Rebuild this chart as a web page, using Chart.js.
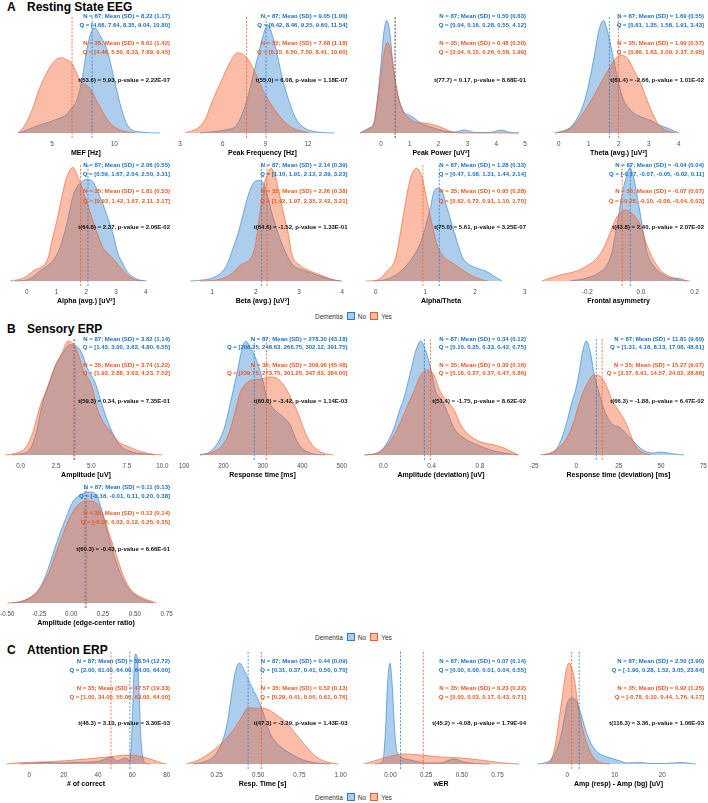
<!DOCTYPE html>
<html><head><meta charset="utf-8">
<script src="https://cdn.jsdelivr.net/npm/chart.js@4.4.1/dist/chart.umd.min.js"></script>
<style>
html,body{margin:0;padding:0;background:#fff;}
#root{position:relative;width:708px;height:803px;overflow:hidden;background:#fff;font-family:"Liberation Sans",Arial,Helvetica,sans-serif;}
.sec{position:absolute;font-weight:bold;font-size:12px;line-height:12px;color:#000;white-space:nowrap}
.ann{position:absolute;font-weight:bold;font-size:6px;line-height:7px;white-space:nowrap;text-align:right}
.axt{position:absolute;font-weight:bold;font-size:7px;line-height:8px;white-space:nowrap;text-align:center;color:#000;width:220px}
.leg{position:absolute;font-size:6.5px;line-height:9px;color:#333;white-space:nowrap;display:flex;align-items:center}
.sw{display:inline-block;width:8px;height:8px;box-sizing:border-box;margin:0 3px 0 4px}
canvas{position:absolute}
</style></head><body><div id="root"></div>
<script>
// ---------------- DATA (x value, estimated density) ----------------
// A. Resting State EEG
const MEF_NO  = [[2.3,0],[3.0,.011],[4.0,.029],[4.84,.04],[5.4,.05],[6.0,.061],[6.6,.09],[7.0,.119],[7.4,.19],[7.8,.30],[8.13,.36],[8.45,.377],[8.85,.35],[9.41,.30],[10.06,.18],[10.6,.083],[11.1,.025],[12.06,.004],[13.67,0]];
const MEF_YES = [[2.27,0],[2.83,.029],[3.4,.083],[4.04,.165],[4.84,.237],[5.4,.266],[5.8,.27],[6.2,.262],[6.6,.25],[7.25,.19],[8.05,.16],[8.85,.093],[9.65,.036],[10.46,.011],[11.66,0]];
const MEF_MEANS = [8.22, 6.61];
const MEF_TICKS = ['5','10'];
const MEF_TEXT = ['N = 87; Mean (SD) = 8.22 (1.17)','Q = [4.66, 7.64, 8.35, 9.04, 10.80]','N = 35; Mean (SD) = 6.61 (1.42)','Q = [4.46, 5.50, 6.33, 7.89, 9.45]','t(53.6) = 5.93, p-value = 2.22E-07'];

const PF_NO  = [[4.4,0],[6.15,.011],[7.0,.029],[7.4,.072],[7.77,.13],[8.1,.2],[8.47,.274],[8.82,.346],[9.17,.389],[9.52,.346],[9.87,.274],[10.22,.191],[10.71,.108],[11.2,.047],[11.76,.018],[12.6,.004],[13.86,0]];
const PF_YES = [[3.35,0],[4.26,.018],[4.75,.047],[5.31,.119],[5.94,.191],[6.5,.252],[7.06,.288],[7.7,.27],[8.26,.22],[8.82,.155],[9.52,.094],[10.22,.047],[10.92,.018],[12.1,0]];
const PF_MEANS = [9.05, 7.68];
const PF_TICKS = ['3','6','9','12'];
const PF_TEXT = ['N = 87; Mean (SD) = 9.05 (1.00)','Q = [6.42, 8.46, 9.25, 9.60, 11.54]','N = 35; Mean (SD) = 7.68 (1.18)','Q = [6.15, 6.50, 7.50, 8.41, 10.60]','t(55.0) = 6.08, p-value = 1.18E-07'];

const PP_NO  = [[-0.73,0],[-0.42,.067],[-0.24,.133],[-0.13,.44],[-0.01,.88],[0.08,1.28],[0.2,1.5],[0.31,1.33],[0.39,1.01],[0.51,.665],[0.63,.44],[0.8,.28],[0.97,.24],[1.15,.2],[1.38,.133],[1.73,.08],[2.22,.027],[2.57,.013],[2.88,.04],[3.26,.007],[3.78,.007],[4.16,.04],[4.48,.007],[4.79,0]];
const PP_YES = [[-0.73,0],[-0.42,.053],[-0.24,.146],[-0.13,.4],[-0.01,.745],[0.08,1.01],[0.22,1.21],[0.34,1.1],[0.45,.8],[0.57,.53],[0.74,.306],[0.97,.2],[1.2,.146],[1.52,.133],[1.86,.106],[2.15,.067],[2.47,.013],[2.92,0],[4.79,0]];
const PP_MEANS = [0.50, 0.48];
const PP_TICKS = ['0','1','2','3','4','5'];
const PP_TEXT = ['N = 87; Mean (SD) = 0.50 (0.63)','Q = [0.04, 0.16, 0.28, 0.55, 4.12]','N = 35; Mean (SD) = 0.48 (0.50)','Q = [0.04, 0.15, 0.26, 0.58, 1.99]','t(77.7) = 0.17, p-value = 8.68E-01'];

const TH_NO  = [[-0.12,0],[0.23,.024],[0.4,.048],[0.62,.12],[0.84,.24],[1.01,.4],[1.18,.61],[1.34,.82],[1.49,.9],[1.62,.82],[1.79,.64],[1.95,.45],[2.12,.29],[2.4,.18],[2.73,.13],[3.07,.1],[3.34,.064],[3.62,.04],[4.01,0]];
const TH_YES = [[-0.12,0],[0.29,.024],[0.51,.064],[0.73,.13],[0.95,.21],[1.18,.3],[1.4,.4],[1.62,.49],[1.84,.58],[2.07,.62],[2.29,.6],[2.51,.5],[2.73,.4],[2.95,.26],[3.18,.13],[3.34,.064],[3.57,.024],[3.88,0]];
const TH_MEANS = [1.69, 1.99];
const TH_TICKS = ['0','1','2','3','4'];
const TH_TEXT = ['N = 87; Mean (SD) = 1.69 (0.55)','Q = [0.61, 1.35, 1.58, 1.91, 3.43]','N = 35; Mean (SD) = 1.99 (0.57)','Q = [0.86, 1.63, 2.09, 2.37, 2.95]','t(61.4) = -2.66, p-value = 1.01E-02'];

const AL_NO  = [[-0.39,0],[0,.007],[0.45,.067],[1.06,.194],[1.34,.375],[1.57,.576],[1.85,.663],[2.04,.677],[2.24,.657],[2.46,.563],[2.69,.442],[2.91,.308],[3.08,.174],[3.19,.134],[3.36,.067],[3.7,.013],[4.03,0]];
const AL_YES = [[-0.56,0],[-0.11,.02],[0.22,.067],[0.73,.16],[0.84,.26],[1.01,.4],[1.18,.56],[1.34,.69],[1.55,.757],[1.73,.69],[1.9,.6],[2.13,.46],[2.35,.33],[2.57,.22],[2.8,.17],[3.03,.12],[3.25,.067],[3.58,.013],[3.92,0]];
const AL_MEANS = [2.06, 1.81];
const AL_TICKS = ['0','1','2','3','4'];
const AL_TEXT = ['N = 87; Mean (SD) = 2.06 (0.55)','Q = [0.59, 1.67, 2.04, 2.50, 3.31]','N = 35; Mean (SD) = 1.81 (0.53)','Q = [0.92, 1.42, 1.67, 2.11, 3.17]','t(64.8) = 2.37, p-value = 2.06E-02'];

const BE_NO  = [[0.49,0],[0.79,.012],[1.1,.058],[1.33,.18],[1.48,.38],[1.6,.56],[1.72,.79],[1.83,.99],[1.95,1.13],[2.06,1.16],[2.18,1.13],[2.29,.95],[2.41,.72],[2.56,.49],[2.72,.3],[2.87,.18],[3.1,.127],[3.41,.069],[3.72,.023],[3.95,0]];
const BE_YES = [[0.72,0],[1.1,.012],[1.41,.07],[1.64,.18],[1.95,.33],[2.03,.53],[2.1,.79],[2.18,1.07],[2.26,1.22],[2.35,1.3],[2.45,1.22],[2.52,1.07],[2.64,.79],[2.76,.53],[2.83,.32],[3.03,.18],[3.26,.115],[3.56,.058],[3.79,.012],[4.0,0]];
const BE_MEANS = [2.14, 2.26];
const BE_TICKS = ['1','2','3','4'];
const BE_TEXT = ['N = 87; Mean (SD) = 2.14 (0.39)','Q = [1.10, 1.91, 2.12, 2.39, 3.23]','N = 35; Mean (SD) = 2.26 (0.38)','Q = [1.42, 1.97, 2.35, 2.42, 3.21]','t(64.6) = -1.52, p-value = 1.33E-01'];

const AT_NO  = [[-0.03,0],[0.17,.014],[0.37,.07],[0.57,.18],[0.77,.36],[0.91,.55],[1.01,.78],[1.11,1.06],[1.17,1.25],[1.25,1.3],[1.34,1.25],[1.44,1.02],[1.54,.78],[1.64,.55],[1.74,.34],[1.84,.25],[2.04,.18],[2.21,.14],[2.38,.07],[2.54,0]];
const AT_YES = [[-0.2,0],[0.03,.014],[0.23,.14],[0.4,.32],[0.5,.69],[0.6,1.1],[0.7,1.44],[0.82,1.58],[0.94,1.44],[1.04,1.1],[1.14,.78],[1.24,.5],[1.37,.34],[1.58,.24],[1.78,.14],[2.04,.04],[2.25,0]];
const AT_MEANS = [1.28, 0.95];
const AT_TICKS = ['0','1','2','3'];
const AT_TEXT = ['N = 87; Mean (SD) = 1.28 (0.33)','Q = [0.47, 1.08, 1.31, 1.44, 2.14]','N = 35; Mean (SD) = 0.95 (0.28)','Q = [0.62, 0.72, 0.91, 1.10, 1.70]','t(75.0) = 5.61, p-value = 3.25E-07'];

const FA_NO  = [[-0.264,0],[-0.202,.24],[-0.158,.64],[-0.127,1.28],[-0.108,2.32],[-0.096,3.68],[-0.083,5.28],[-0.071,6.88],[-0.058,8.08],[-0.042,9.04],[-0.027,8.24],[-0.015,6.88],[-0.002,5.28],[0.01,3.68],[0.022,2.32],[0.047,1.2],[0.085,.48],[0.107,.24],[0.13,.24],[0.173,0]];
const FA_YES = [[-0.37,0],[-0.338,.24],[-0.301,.48],[-0.239,.8],[-0.202,1.2],[-0.164,1.84],[-0.139,2.64],[-0.114,3.92],[-0.09,5.12],[-0.058,5.68],[-0.027,5.28],[-0.002,4.48],[0.022,2.88],[0.047,1.68],[0.072,.88],[0.103,.4],[0.141,.08],[0.182,0]];
const FA_MEANS = [-0.04, -0.07];
const FA_TICKS = ['-0.2','0.0','0.2'];
const FA_TEXT = ['N = 87; Mean (SD) = -0.04 (0.04)','Q = [-0.17, -0.07, -0.05, -0.02, 0.11]','N = 35; Mean (SD) = -0.07 (0.07)','Q = [-0.28, -0.10, -0.06, -0.04, 0.03]','t(43.8) = 2.40, p-value = 2.07E-02'];

// B. Sensory ERP
const AMP_NO  = [[-0.61,0],[-0.17,.002],[0.66,.0175],[1.13,.07],[1.48,.14],[1.95,.2],[2.47,.26],[2.97,.294],[3.48,.3185],[4.19,.3045],[4.77,.245],[5.25,.21],[5.6,.1645],[6.07,.105],[6.54,.0595],[7.01,.028],[7.72,.0105],[8.66,.0035],[9.48,0]];
const AMP_YES = [[-1.11,0],[-0.52,.0035],[0.42,.025],[0.89,.07],[1.36,.14],[1.84,.19],[2.42,.255],[2.9,.294],[3.36,.329],[3.95,.3045],[4.42,.245],[5.01,.2],[5.37,.14],[5.83,.0945],[6.31,.07],[7.01,.035],[7.6,.0245],[8.19,.014],[9.13,.0035],[10.0,0]];
const AMP_MEANS = [3.82, 3.74];
const AMP_TICKS = ['0.0','2.5','5.0','7.5','10.0'];
const AMP_TEXT = ['N = 87; Mean (SD) = 3.82 (1.14)','Q = [1.43, 3.00, 3.62, 4.80, 6.55]','N = 35; Mean (SD) = 3.74 (1.22)','Q = [1.93, 2.88, 3.63, 4.23, 7.52]','t(59.3) = 0.34, p-value = 7.35E-01'];

const RT_NO  = [[140.6,0],[166,.0003],[187,.0012],[204,.0027],[216.8,.0047],[225,.006],[235.3,.0077],[246.4,.0097],[256.6,.0105],[267.5,.01],[284.5,.0087],[301.3,.0067],[310,.0053],[326.6,.0043],[352,.0035],[369,.0028],[386,.0013],[402.8,.0005],[428,.0001],[458,0]];
const RT_YES = [[140.6,0],[174.4,.0003],[199.7,.001],[216.8,.0023],[229.4,.004],[242,.0057],[254.8,.0065],[271.8,.0069],[292.9,.007],[318.3,.0072],[339.3,.007],[360.7,.006],[377.4,.0048],[390,.0038],[402.8,.0025],[419.8,.0012],[445.2,.0003],[479,0]];
const RT_MEANS = [278.30, 308.96];
const RT_TICKS = ['100','200','300','400','500'];
const RT_TEXT = ['N = 87; Mean (SD) = 278.30 (43.18)','Q = [208.25, 248.63, 266.75, 302.12, 391.75]','N = 35; Mean (SD) = 308.96 (45.48)','Q = [239.75, 273.75, 301.25, 347.63, 384.00]','t(60.0) = -3.42, p-value = 1.14E-03'];

const AD_NO  = [[-0.16,0],[-0.05,.066],[0.02,.33],[0.089,.89],[0.13,1.42],[0.171,1.88],[0.199,2.31],[0.227,2.77],[0.268,3.43],[0.31,3.76],[0.351,3.43],[0.392,2.87],[0.434,2.1],[0.488,1.8],[0.53,1.42],[0.585,.89],[0.668,.56],[0.778,.33],[0.889,.165],[0.999,.066],[1.11,0]];
const AD_YES = [[-0.146,0],[-0.05,.066],[0.02,.264],[0.089,.66],[0.157,1.22],[0.213,1.75],[0.254,2.11],[0.296,2.54],[0.359,2.8],[0.42,2.64],[0.461,2.18],[0.519,1.82],[0.585,1.49],[0.641,.99],[0.709,.66],[0.806,.43],[0.916,.33],[0.999,.23],[1.068,.1],[1.123,0]];
const AD_MEANS = [0.34, 0.39];
const AD_TICKS = ['0.0','0.4','0.8'];
const AD_TEXT = ['N = 87; Mean (SD) = 0.34 (0.12)','Q = [0.10, 0.25, 0.33, 0.42, 0.75]','N = 35; Mean (SD) = 0.39 (0.16)','Q = [0.16, 0.27, 0.37, 0.47, 0.86]','t(51.4) = -1.75, p-value = 8.62E-02'];

const RD_NO  = [[-19.3,0],[-13.4,.0015],[-9.5,.0065],[-5.6,.0165],[-2.6,.0265],[-0.6,.032],[1.4,.04],[3.3,.05],[5.9,.057],[8.6,.05],[10.6,.04],[13.2,.032],[16.1,.0235],[20.1,.0165],[26,.0135],[31.9,.0085],[37.8,.0035],[41.7,.0015],[45.7,.001],[49.6,.0015],[57.5,.0005],[63.4,0]];
const RD_YES = [[-21.3,0],[-15.4,.001],[-10.5,.0035],[-5.6,.0085],[-1.6,.0165],[1.4,.025],[4.3,.032],[7.3,.037],[10.2,.04],[15.1,.0385],[18.1,.034],[21,.0275],[26,.021],[29.9,.015],[32.8,.0085],[35.8,.0035],[39.8,.001],[43.7,0]];
const RD_MEANS = [11.81, 15.27];
const RD_TICKS = ['-25','0','25','50','75'];
const RD_TEXT = ['N = 87; Mean (SD) = 11.81 (9.60)','Q = [1.31, 4.18, 8.13, 17.08, 48.61]','N = 35; Mean (SD) = 15.27 (9.07)','Q = [2.37, 6.91, 14.57, 24.02, 28.86]','t(66.3) = -1.88, p-value = 6.47E-02'];

const EC_NO  = [[-0.46,0],[-0.356,.084],[-0.264,.31],[-0.198,.78],[-0.145,1.34],[-0.092,1.9],[-0.04,2.38],[0.013,2.83],[0.06,3.0],[0.105,3.08],[0.145,3.11],[0.198,3.02],[0.237,2.66],[0.277,2.1],[0.329,1.43],[0.382,.87],[0.447,.42],[0.54,.14],[0.645,0]];
const EC_YES = [[-0.5,0],[-0.409,.028],[-0.316,.17],[-0.237,.45],[-0.172,.87],[-0.119,1.4],[-0.066,1.9],[-0.013,2.38],[0.052,2.74],[0.131,2.86],[0.198,2.8],[0.25,2.46],[0.303,1.9],[0.356,1.34],[0.408,.78],[0.474,.36],[0.566,.14],[0.672,0]];
const EC_MEANS = [0.11, 0.12];
const EC_TICKS = ['-0.50','-0.25','0.00','0.25','0.50','0.75'];
const EC_TEXT = ['N = 87; Mean (SD) = 0.11 (0.13)','Q = [-0.18, -0.01, 0.11, 0.20, 0.38]','N = 35; Mean (SD) = 0.12 (0.14)','Q = [-0.18, 0.03, 0.12, 0.25, 0.35]','t(60.3) = -0.43, p-value = 6.66E-01'];

// C. Attention ERP
const NC_NO  = [[-5.4,0],[0,.00085],[9.1,.0026],[17.9,.0017],[26.6,.0026],[35.3,.0034],[41.2,.0051],[48,.0119],[51.1,.0051],[52.8,.0068],[56.7,.0102],[58.2,.0051],[59.4,.034],[60.2,.0935],[61,.1615],[61.7,.187],[62.7,.1836],[63.5,.153],[64.3,.0935],[65,.0425],[66,.0136],[67.4,.0017],[70.3,0]];
const NC_YES = [[-13.2,0],[-5.4,.0022],[12,.0039],[31.4,.008],[47,.0124],[58.6,.0153],[66.4,.0119],[72.2,.0068],[77.1,.0017],[79.6,0]];
const NC_MEANS = [58.54, 47.57];
const NC_TICKS = ['0','20','40','60','80'];
const NC_TEXT = ['N = 87; Mean (SD) = 58.54 (12.72)','Q = [2.00, 61.00, 64.00, 64.00, 64.00]','N = 35; Mean (SD) = 47.57 (19.33)','Q = [1.00, 34.00, 55.00, 63.00, 64.00]','t(46.3) = 3.10, p-value = 3.30E-03'];

const RS_NO  = [[0.108,0],[0.169,.1],[0.229,.35],[0.27,.85],[0.3,1.55],[0.32,2.35],[0.341,3.55],[0.361,4.55],[0.387,5.05],[0.421,4.6],[0.462,3.85],[0.502,3.2],[0.532,2.55],[0.572,1.55],[0.613,1.05],[0.663,.7],[0.713,.45],[0.774,.2],[0.855,.05],[0.935,0]];
const RS_YES = [[0.068,0],[0.139,.2],[0.209,.55],[0.28,1.05],[0.341,1.6],[0.391,2.2],[0.441,2.8],[0.492,2.8],[0.552,2.75],[0.613,2.45],[0.673,2.05],[0.734,1.45],[0.794,.85],[0.855,.35],[0.915,.1],[0.986,0]];
const RS_MEANS = [0.44, 0.52];
const RS_TICKS = ['0.25','0.50','0.75','1.00'];
const RS_TEXT = ['N = 87; Mean (SD) = 0.44 (0.09)','Q = [0.31, 0.37, 0.41, 0.50, 0.70]','N = 35; Mean (SD) = 0.52 (0.13)','Q = [0.29, 0.41, 0.50, 0.61, 0.76]','t(47.3) = -3.39, p-value = 1.43E-03'];

const WE_NO  = [[-0.109,0],[-0.057,.24],[-0.046,1.32],[-0.034,4.44],[-0.022,9.24],[-0.004,12.12],[0.013,9.24],[0.025,5.28],[0.036,2.52],[0.048,1.32],[0.071,.84],[0.142,.48],[0.258,.12],[0.347,.12],[0.445,.6],[0.515,.24],[0.592,.06],[0.697,0]];
const WE_YES = [[-0.186,0],[-0.116,.36],[-0.022,.84],[0.095,1.2],[0.212,1.08],[0.352,.84],[0.492,.72],[0.632,.48],[0.772,.156],[0.9,0]];
const WE_MEANS = [0.07, 0.23];
const WE_TICKS = ['0.00','0.25','0.50','0.75'];
const WE_TEXT = ['N = 87; Mean (SD) = 0.07 (0.14)','Q = [0.00, 0.00, 0.01, 0.04, 0.55]','N = 35; Mean (SD) = 0.23 (0.22)','Q = [0.00, 0.03, 0.17, 0.43, 0.71]','t(45.2) = -4.08, p-value = 1.79E-04'];

const AB_NO  = [[-6.3,0],[-4.9,.004],[-3.5,.016],[-2.44,.048],[-1.39,.108],[-0.69,.176],[0,.244],[0.84,.264],[1.77,.256],[2.82,.204],[3.87,.136],[4.93,.084],[6.32,.048],[8.42,.028],[9.83,.02],[11.1,.012],[12.6,.004],[15.5,.006],[17.4,.002],[20.6,.002],[23.7,.006],[27,0]];
const AB_YES = [[-4.5,0],[-3.85,.004],[-3.16,.028],[-2.44,.084],[-1.75,.176],[-1.05,.268],[-0.34,.364],[0.36,.404],[1.41,.348],[2.11,.256],[2.82,.176],[3.87,.096],[4.93,.044],[5.98,.016],[7.37,.004],[9,0]];
const AB_MEANS = [2.50, 0.92];
const AB_TICKS = ['0','10','20'];
const AB_TEXT = ['N = 87; Mean (SD) = 2.50 (3.90)','Q = [-1.90, 0.28, 1.52, 3.05, 23.64]','N = 35; Mean (SD) = 0.92 (1.25)','Q = [-0.78, 0.10, 0.44, 1.76, 4.17]','t(116.3) = 3.36, p-value = 1.06E-03'];

const AXIS_TITLES = ['MEF [Hz]','Peak Frequency [Hz]','Peak Power [uV\u00B2]','Theta (avg.) [uV\u00B2]','Alpha (avg.) [uV\u00B2]','Beta (avg.) [uV\u00B2]','Alpha/Theta','Frontal asymmetry','Amplitude [uV]','Response time [ms]','Amplitude (deviation) [uV]','Response time (deviation) [ms]','Amplitude (edge-center ratio)','# of correct','Resp. Time [s]','wER','Amp (resp) - Amp (bg) [uV]'];
const SECTIONS = [['A','Resting State EEG'],['B','Sensory ERP'],['C','Attention ERP']];
const LEGEND_TITLE = 'Dementia';
const GROUPS = ['No','Yes'];

// ---------------- LAYOUT / STYLE ----------------
const BLUE = 'rgb(38,126,206)', BLUE_FILL = 'rgba(38,126,206,0.38)', BLUE_TEXT = 'rgb(28,112,200)';
const ORANGE = 'rgb(244,90,36)', ORANGE_FILL = 'rgba(244,90,36,0.40)', ORANGE_TEXT = 'rgb(242,86,30)';
const FONT = '"Liberation Sans", Arial, Helvetica, sans-serif';
const COLS = [{L:0,R:172},{L:176,R:349},{L:354,R:528},{L:531,R:706}];
const TEXT_RIGHT = [170,347.5,526,704];
const ROWS = {
  A1:{T:16,B0:133,text:[16.7,25.7,43.3,52.3,80]},
  A2:{T:164,B0:281,text:[165.7,174.3,191.7,201,227.7]},
  B1:{T:338,B0:455,text:[339.3,347.6,365,373.7,401.3]},
  B2:{T:488,B0:603,text:[487.3,496,513.3,522.3,549]},
  C:{T:650,B0:764,text:[661.7,670.7,688.3,697.3,723.3]}
};
const PADX = 20, AXH = 14, BELOW = 5;

const PANELS = [
  {no:MEF_NO,yes:MEF_YES,means:MEF_MEANS,ticks:MEF_TICKS,text:MEF_TEXT,title:0,row:'A1',col:0,anchor:[5,52,10,114.3],ymax:0.42},
  {no:PF_NO,yes:PF_YES,means:PF_MEANS,ticks:PF_TICKS,text:PF_TEXT,title:1,row:'A1',col:1,anchor:[3,180,12,308],ymax:0.42},
  {no:PP_NO,yes:PP_YES,means:PP_MEANS,ticks:PP_TICKS,text:PP_TEXT,title:2,row:'A1',col:2,anchor:[0,381,5,525],ymax:1.56},
  {no:TH_NO,yes:TH_YES,means:TH_MEANS,ticks:TH_TICKS,text:TH_TEXT,title:3,row:'A1',col:3,anchor:[0,558.7,4,678.7],ymax:0.936},
  {no:AL_NO,yes:AL_YES,means:AL_MEANS,ticks:AL_TICKS,text:AL_TEXT,title:4,row:'A2',col:0,anchor:[0,26.7,4,145.7],ymax:0.78},
  {no:BE_NO,yes:BE_YES,means:BE_MEANS,ticks:BE_TICKS,text:BE_TEXT,title:5,row:'A2',col:1,anchor:[1,212.3,4,342.3],ymax:1.35},
  {no:AT_NO,yes:AT_YES,means:AT_MEANS,ticks:AT_TICKS,text:AT_TEXT,title:6,row:'A2',col:2,anchor:[0,375.7,3,524.7],ymax:1.64},
  {no:FA_NO,yes:FA_YES,means:FA_MEANS,ticks:FA_TICKS,text:FA_TEXT,title:7,row:'A2',col:3,anchor:[-0.2,587.3,0.2,694.7],ymax:9.36},
  {no:AMP_NO,yes:AMP_YES,means:AMP_MEANS,ticks:AMP_TICKS,text:AMP_TEXT,title:8,row:'B1',col:0,anchor:[0,20.7,10,162.3],ymax:0.338},
  {no:RT_NO,yes:RT_YES,means:RT_MEANS,ticks:RT_TICKS,text:RT_TEXT,title:9,row:'B1',col:1,anchor:[100,184,500,341.7],ymax:0.0108},
  {no:AD_NO,yes:AD_YES,means:AD_MEANS,ticks:AD_TICKS,text:AD_TEXT,title:10,row:'B1',col:2,anchor:[0,383.3,0.8,480],ymax:3.86},
  {no:RD_NO,yes:RD_YES,means:RD_MEANS,ticks:RD_TICKS,text:RD_TEXT,title:11,row:'B1',col:3,anchor:[-25,534,75,703.3],ymax:0.0585},
  {no:EC_NO,yes:EC_YES,means:EC_MEANS,ticks:EC_TICKS,text:EC_TEXT,title:12,row:'B2',col:0,anchor:[-0.5,7.3,0.75,166.7],ymax:3.22},
  {no:NC_NO,yes:NC_YES,means:NC_MEANS,ticks:NC_TICKS,text:NC_TEXT,title:13,row:'C',col:0,anchor:[0,29.3,80,166.7],ymax:0.194},
  {no:RS_NO,yes:RS_YES,means:RS_MEANS,ticks:RS_TICKS,text:RS_TEXT,title:14,row:'C',col:1,anchor:[0.25,216.7,1.0,340.7],ymax:5.7},
  {no:WE_NO,yes:WE_YES,means:WE_MEANS,ticks:WE_TICKS,text:WE_TEXT,title:15,row:'C',col:2,anchor:[0,390.5,0.75,497.5],ymax:13.7},
  {no:AB_NO,yes:AB_YES,means:AB_MEANS,ticks:AB_TICKS,text:AB_TEXT,title:16,row:'C',col:3,anchor:[0,567.3,20,662.3],ymax:0.456}
];
const SECTION_Y = [6.5, 329, 650];
const LEGEND_Y = [316, 637, 797];

// ---------------- RENDER ----------------
const root = document.getElementById('root');
function addDiv(cls, text, css){ const d=document.createElement('div'); d.className=cls; d.textContent=text; Object.assign(d.style, css); root.appendChild(d); return d; }

SECTIONS.forEach(([letter,name],i)=>{
  addDiv('sec', letter, {left:'7px', top:(SECTION_Y[i]-6)+'px'});
  addDiv('sec', name, {left:'27px', top:(SECTION_Y[i]-6)+'px'});
});

LEGEND_Y.forEach(y=>{
  const d=document.createElement('div'); d.className='leg'; d.style.left='315px'; d.style.top=(y-4.5)+'px';
  const t=document.createElement('span'); t.textContent=LEGEND_TITLE; d.appendChild(t);
  GROUPS.forEach((g,gi)=>{
    const s=document.createElement('span'); s.className='sw';
    s.style.background = gi===0?BLUE_FILL:ORANGE_FILL; s.style.border='0.6px solid '+(gi===0?BLUE:ORANGE);
    d.appendChild(s);
    const l=document.createElement('span'); l.textContent=g; d.appendChild(l);
  });
  root.appendChild(d);
});

function makePanel(p){
  const row=ROWS[p.row], col=COLS[p.col];
  const [v1,p1,v2,p2]=p.anchor;
  const k=(v2-v1)/(p2-p1);
  const xmin=v1+(col.L-p1)*k, xmax=v1+(col.R-p1)*k;
  const Hp=row.B0-row.T;
  const ymin=-(BELOW/Hp)*p.ymax;
  const W=col.R-col.L+2*PADX, H=(row.B0+BELOW-row.T)+AXH;
  const cv=document.createElement('canvas');
  cv.width=W; cv.height=H;
  Object.assign(cv.style,{left:(col.L-PADX)+'px', top:row.T+'px', width:W+'px', height:H+'px'});
  root.appendChild(cv);
  const tickVals=p.ticks.map(Number);
  const curve=(arr,line,fillc,order)=>({data:arr.map(([x,y])=>({x,y})),borderColor:line,backgroundColor:fillc,fill:'origin',borderWidth:0.6,pointRadius:0,cubicInterpolationMode:'monotone',order});
  const vline=(m,line,order)=>({data:[{x:m,y:ymin},{x:m,y:p.ymax}],borderColor:line,borderWidth:0.8,borderDash:[2,1.6],pointRadius:0,fill:false,order});
  new Chart(cv,{
    type:'line',
    data:{datasets:[
      curve(p.no,BLUE,BLUE_FILL,4),
      curve(p.yes,ORANGE,ORANGE_FILL,3),
      vline(p.means[0],BLUE,2),
      vline(p.means[1],ORANGE,1)
    ]},
    options:{
      responsive:false, animation:false, devicePixelRatio:1, events:[],
      layout:{padding:{left:PADX,right:PADX,top:0,bottom:0}},
      plugins:{legend:{display:false},tooltip:{enabled:false}},
      scales:{
        x:{type:'linear',min:xmin,max:xmax,
           grid:{display:false,drawTicks:false},border:{display:false},
           ticks:{font:{family:FONT,size:6.3},color:'#4d4d4d',padding:2.5,maxRotation:0,minRotation:0,autoSkip:false,
                  callback:(v,i)=>p.ticks[i]},
           afterBuildTicks:(ax)=>{ax.ticks=tickVals.map(v=>({value:v}));},
           afterFit:(ax)=>{ax.height=AXH;}
        },
        y:{display:false,min:ymin,max:p.ymax}
      }
    }
  });
  // annotations
  const colors=[BLUE_TEXT,BLUE_TEXT,ORANGE_TEXT,ORANGE_TEXT,'#111'];
  p.text.forEach((t,i)=>{
    addDiv('ann', t, {right:(708-TEXT_RIGHT[p.col])+'px', top:(row.text[i]-3.5)+'px', color:colors[i]});
  });
  const cx=(col.L+col.R)/2;
  addDiv('axt', AXIS_TITLES[p.title], {left:(cx-110)+'px', top:(row.B0+19.5-4)+'px'});
}
PANELS.forEach(makePanel);
</script></body></html>
